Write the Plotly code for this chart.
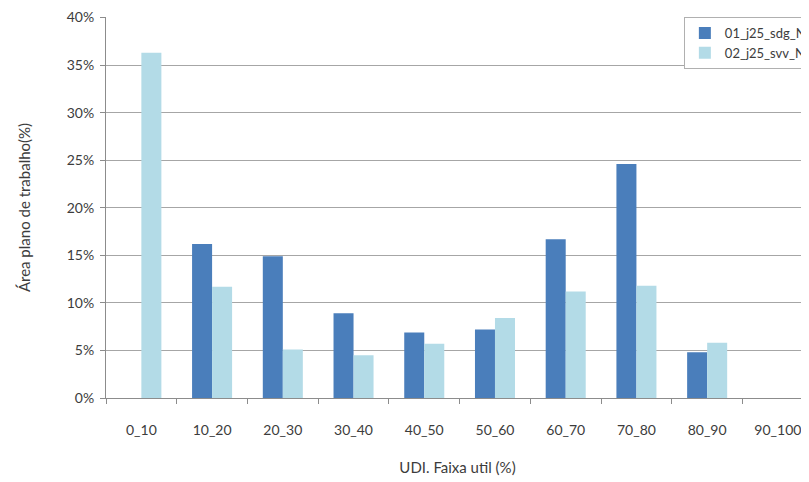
import plotly.graph_objects as go

categories = ["0_10", "10_20", "20_30", "30_40", "40_50", "50_60", "60_70", "70_80", "80_90", "90_100"]
sdg_values = [0.0, 16.2, 14.9, 8.9, 6.9, 7.2, 16.7, 24.6, 4.8, 0.0]
svv_values = [36.3, 11.7, 5.1, 4.5, 5.7, 8.4, 11.2, 11.8, 5.8, 0.0]
series_names = ["01_j25_sdg_N", "02_j25_svv_N"]
y_ticks = [0, 5, 10, 15, 20, 25, 30, 35, 40]
y_tick_labels = [f"{v}%" for v in y_ticks]

font_family = "Lato, 'Open Sans', sans-serif"
text_color = "#3c3c3c"

fig = go.Figure()
fig.add_trace(go.Bar(x=categories, y=sdg_values, name=series_names[0],
                     marker=dict(color="#4a7ebb", line=dict(width=0))))
fig.add_trace(go.Bar(x=categories, y=svv_values, name=series_names[1],
                     marker=dict(color="#b3dbe7", line=dict(width=0))))

# page body has an 8px default margin, so the figure is sized to the visible area
fig.update_layout(
    width=801, height=474,
    margin=dict(l=98, r=0, t=9, b=84, autoexpand=False),
    paper_bgcolor="white", plot_bgcolor="white",
    barmode="group", bargap=0.434, bargroupgap=0,
    font=dict(family=font_family, size=14, color=text_color),
    showlegend=True,
    legend=dict(x=0.822, y=1.0, xanchor="left", yanchor="top",
                bgcolor="white", bordercolor="#b0b0b0", borderwidth=1,
                font=dict(size=13, color=text_color),
                tracegroupgap=0, itemwidth=30),
    xaxis=dict(
        range=[-0.5, 9.44],
        showline=True, linecolor="#8c8c8c", linewidth=1,
        ticks="outside", ticklen=5, tickcolor="#8c8c8c",
        tickson="boundaries", ticklabelstandoff=19,
        showgrid=False, zeroline=False,
        tickfont=dict(size=14, color=text_color),
        title=dict(text="UDI. Faixa util (%)", font=dict(size=15, color=text_color), standoff=25),
    ),
    yaxis=dict(
        range=[0, 40.06],
        tickvals=y_ticks, ticktext=y_tick_labels,
        showline=True, linecolor="#8c8c8c", linewidth=1,
        ticks="outside", ticklen=5, tickcolor="#8c8c8c",
        ticklabelstandoff=3, ticklabeloverflow="allow",
        showgrid=True, gridcolor="#a6a6a6", gridwidth=1,
        zeroline=False,
        tickfont=dict(size=14, color=text_color),
        title=dict(text="Área plano de trabalho(%)", font=dict(size=15, color=text_color), standoff=32),
    ),
)

fig.write_html("out.html")
